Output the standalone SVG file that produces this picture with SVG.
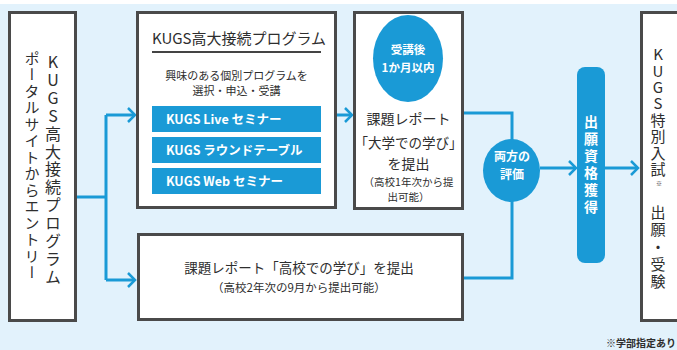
<svg xmlns="http://www.w3.org/2000/svg" width="677" height="350" viewBox="0 0 677 350">
<style>
.bg{fill:#e2f2fc}
.box{fill:#fff;stroke:#4a4a4a;stroke-width:3}
.blue{fill:#1a9ad6}
.t{font-family:"Noto Sans CJK JP","Noto Sans",sans-serif;fill:#2e2e2e}
.w{font-family:"Noto Sans CJK JP","Noto Sans",sans-serif;fill:#fff;font-weight:bold}
.c{text-anchor:middle}
.vt{writing-mode:vertical-rl;text-orientation:upright}
.con{fill:none;stroke:#1a9ad6;stroke-width:3}
</style>
<defs>
<marker id="arr" viewBox="-9 -9 11 18" markerWidth="11" markerHeight="18" refX="0" refY="0" orient="auto" markerUnits="userSpaceOnUse">
<path d="M-7,-7 L0,0 L-7,7" fill="none" stroke="#1a9ad6" stroke-width="2.5"/>
</marker>
</defs>
<rect x="0" y="0" width="677" height="350" fill="#fff"/>
<rect class="bg" x="0" y="4" width="677" height="346"/>

<g id="connectors">
<path class="con" d="M77,197 H106"/>
<path class="con" d="M106,115 V280"/>
<path class="con" d="M106,115 H135" marker-end="url(#arr)"/>
<path class="con" d="M106,280 H135" marker-end="url(#arr)"/>
<path class="con" d="M337,115 H352" marker-end="url(#arr)"/>
<path class="con" d="M464,113 H512 V140"/>
<path class="con" d="M464,278 H512 V200"/>
<path class="con" d="M540,168 H576" marker-end="url(#arr)"/>
<path class="con" d="M605,168 H638" marker-end="url(#arr)"/>
</g>

<g id="entry">
<rect class="box" x="9.5" y="12.5" width="66" height="308"/>
<text class="t vt" x="53" y="54" font-size="16" letter-spacing="1.9">KUGS高大接続プログラム</text>
<text class="t vt" x="32" y="50.5" font-size="15" letter-spacing="1.5">ポータルサイトからエントリー</text>
</g>

<g id="program">
<rect class="box" x="137.5" y="12.5" width="198" height="195"/>
<text class="t" x="152" y="44" font-size="15">KUGS高大接続プログラム</text>
<line x1="152" y1="52" x2="321" y2="52" stroke="#444" stroke-width="2"/>
<text class="t c" x="236.5" y="80" font-size="11">興味のある個別プログラムを</text>
<text class="t c" x="236.5" y="95" font-size="11">選択・申込・受講</text>
<rect class="blue" x="152" y="106" width="169" height="26"/>
<rect class="blue" x="152" y="137" width="169" height="26"/>
<rect class="blue" x="152" y="168" width="169" height="26"/>
<text class="w" x="166" y="123.5" font-size="12.5">KUGS Live セミナー</text>
<text class="w" x="166" y="154.5" font-size="12.5">KUGS ラウンドテーブル</text>
<text class="w" x="166" y="185.5" font-size="12.5">KUGS Web セミナー</text>
</g>

<g id="report-univ">
<rect class="box" x="354.5" y="12.5" width="108" height="196"/>
<ellipse class="blue" cx="408" cy="58.5" rx="35" ry="43.5"/>
<text class="w c" x="408" y="54" font-size="11.5">受講後</text>
<text class="w c" x="408" y="72" font-size="11.5">1か月以内</text>
<text class="t c" x="408.5" y="123.5" font-size="14">課題レポート</text>
<text class="t c" x="408.5" y="147.5" font-size="13.5">「大学での学び」</text>
<text class="t c" x="408.5" y="168.5" font-size="14">を提出</text>
<text class="t c" x="408.5" y="186" font-size="10.5">（高校1年次から提</text>
<text class="t c" x="408.5" y="201" font-size="10.5">出可能）</text>
</g>

<g id="report-hs">
<rect class="box" x="138.5" y="234.5" width="324" height="85"/>
<text class="t c" x="299" y="273" font-size="13.5">課題レポート「高校での学び」を提出</text>
<text class="t c" x="299" y="292" font-size="11.5">（高校2年次の9月から提出可能）</text>
</g>

<g id="evaluation">
<ellipse class="blue" cx="511.5" cy="170.5" rx="28.5" ry="31.5"/>
<text class="w c" x="512" y="161" font-size="12">両方の</text>
<text class="w c" x="512" y="179" font-size="12">評価</text>
</g>

<g id="qualification">
<rect class="blue" x="577" y="67" width="28" height="196" rx="8"/>
<text class="w vt" x="591" y="115" font-size="14" letter-spacing="3">出願資格獲得</text>
</g>

<g id="exam">
<rect class="box" x="641.5" y="12.5" width="60" height="308"/>
<text class="t vt" x="658" y="47" font-size="15" letter-spacing="1.4">KUGS特別入試</text>
<text class="t c" x="659" y="186" font-size="6">※</text>
<text class="t vt" x="658" y="205" font-size="15" letter-spacing="2.3">出願・受験</text>
</g>

<text class="t" x="606" y="347" font-size="10" font-weight="bold">※学部指定あり</text>
</svg>
